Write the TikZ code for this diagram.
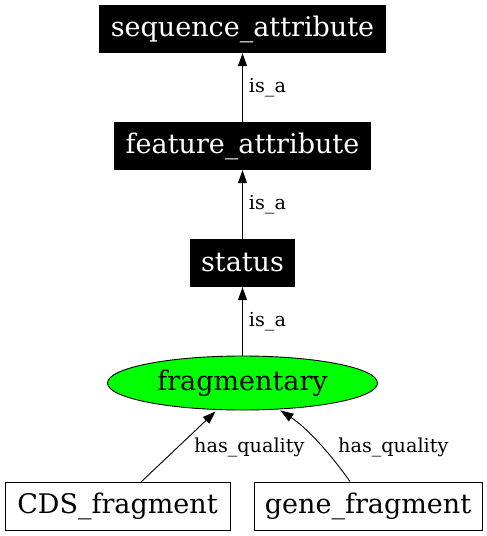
\documentclass[tikz,border=0pt]{standalone}
\usepackage{fontspec}
\setmainfont{DejaVu Serif}
\usetikzlibrary{arrows.meta,shapes.geometric,calc}
\definecolor{FragGreen}{HTML}{00FF00}

\begin{document}
\begin{tikzpicture}[x=1pt,y=-1pt,
    termbox/.style={fill=black,text=white,inner sep=0pt,minimum height=48pt,font=\fontsize{27}{30}\selectfont},
    leafbox/.style={draw=black,fill=white,line width=0.9pt,inner sep=0pt,minimum height=48pt,font=\fontsize{27}{30}\selectfont},
    rel/.style={-{Triangle[length=13pt,width=9pt]},line width=0.9pt},
    rellabel/.style={font=\fontsize{19.2}{21}\selectfont,inner sep=0pt}]
    \useasboundingbox (0,0) rectangle (487,536);
    \node[termbox,minimum width=287pt] (seqattr) at (242.5,29) {sequence\_attribute};
    \node[termbox,minimum width=257pt] (featattr) at (242.5,146) {feature\_attribute};
    \node[termbox,minimum width=105pt] (status) at (242.5,263) {status};
    \node[ellipse,draw=black,fill=FragGreen,line width=0.9pt,inner sep=0pt,minimum width=270pt,minimum height=54pt,font=\fontsize{27}{30}\selectfont] (frag) at (242.5,383) {fragmentary};
    \node[leafbox,minimum width=225pt] (cds) at (117.5,506) {CDS\_fragment};
    \node[leafbox,minimum width=228pt] (gene) at (368,506) {gene\_fragment};
    \draw[rel] (featattr) -- node[rellabel,right=6pt] {is\_a} (seqattr);
    \draw[rel] (status) -- node[rellabel,right=6pt] {is\_a} (featattr);
    \draw[rel] (frag) -- node[rellabel,right=6pt] {is\_a} (status);
    % has_quality edges
    \coordinate (cdstop) at ($(cds.north)+(24,0)$);
    \coordinate (genetop) at ($(gene.north)+(-18,0)$);
    \coordinate (fragl) at ($(frag.south)+(-27,1)$);
    \coordinate (fragr) at ($(frag.south)+(38,0)$);
    \draw[rel] (cdstop) -- (fragl);
    \draw[rel] (genetop) .. controls (335,460) and (310,430) .. (fragr);
    \node[rellabel,anchor=west] (hq1) at (194,447) {has\_quality};
    \node[rellabel,anchor=west] (hq2) at (338,447) {has\_quality};
\end{tikzpicture}
\end{document}
